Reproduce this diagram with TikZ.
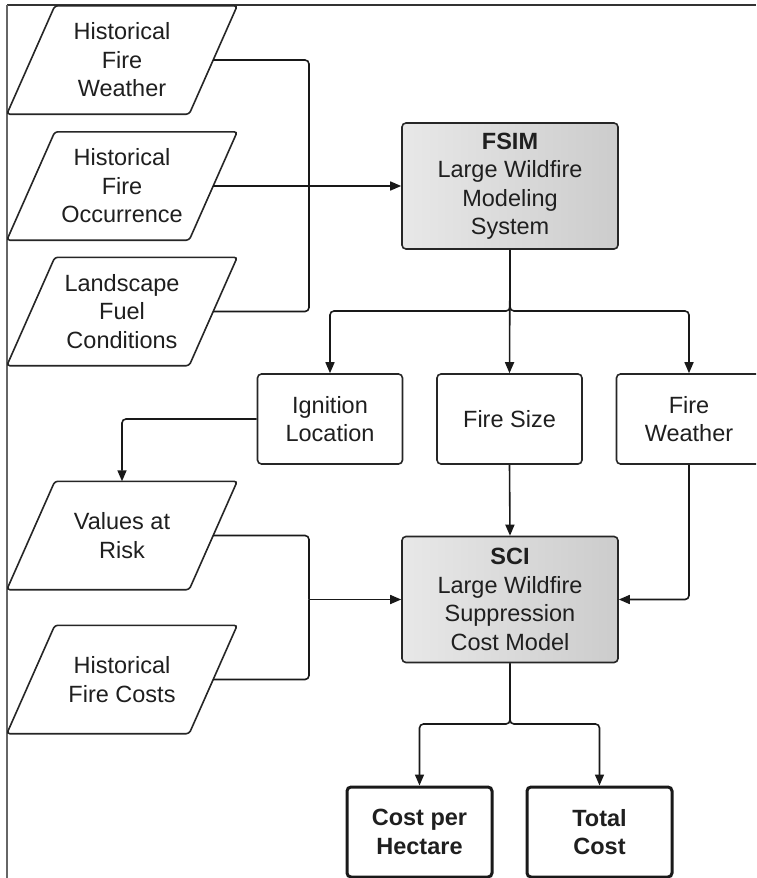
\documentclass[tikz,border=0pt]{standalone}
\usepackage{fontspec}
\setmainfont{Liberation Sans}
\usetikzlibrary{arrows.meta,calc}
\tikzset{
  txt/.style={align=center,font=\fontsize{23.5}{28.5}\selectfont,text=black!88,inner sep=0pt},
  ptext/.style={txt,minimum width=182pt,minimum height=108pt},
  boxline/.style={draw=black!85,line width=1.6pt,rounded corners=4pt},
  rbox/.style={txt,boxline,minimum width=145pt,minimum height=90pt},
  gbox/.style={txt,boxline,minimum width=216pt,minimum height=126pt,left color=black!9,right color=black!20},
  obox/.style={txt,draw=black!90,line width=3pt,rounded corners=4pt,minimum width=145pt,minimum height=90pt,font=\fontsize{23.5}{28.5}\selectfont\bfseries},
  conn/.style={draw=black!90,line width=1.6pt,rounded corners=4pt},
  arr/.style={conn,-{Triangle[length=11pt,width=9pt]}},
}
\newcommand\paranode[3]{%
  \node[ptext] (#1) at (#2) {#3};
  \draw[boxline,rounded corners=3pt] ($(#1.north west)+(24,0)$) -- ($(#1.north east)+(24,0)$) -- ($(#1.south east)+(-24,0)$) -- ($(#1.south west)+(-24,0)$) -- cycle;
}
\begin{document}
\begin{tikzpicture}[x=1pt,y=-1pt]
\useasboundingbox (0,0) rectangle (756,878);
\clip (0,0) rectangle (756,878);
\fill[white] (0,0) rectangle (756,878);
% frame
\draw[black!80,line width=2pt] (7,4.5) -- (756,4.5);
\draw[black!60,line width=2pt] (7,4.5) -- (7,878);

% inputs
\paranode{hfw}{122,60}{Historical\\Fire\\Weather}
\paranode{hfo}{122,186}{Historical\\Fire\\Occurrence}
\paranode{lfc}{122,311.5}{Landscape\\Fuel\\Conditions}
\paranode{var}{122,535.5}{Values at\\Risk}
\paranode{hfc}{122,679.5}{Historical\\Fire Costs}

% models
\node[gbox] (fsim) at (510,186) {\textbf{FSIM}\\Large Wildfire\\Modeling\\System};
\node[gbox] (sci) at (510,599.5) {\textbf{SCI}\\Large Wildfire\\Suppression\\Cost Model};

% intermediate
\node[rbox] (ign) at (330,419) {Ignition\\Location};
\node[rbox] (fsz) at (509.5,419) {Fire Size};
\node[rbox] (fwx) at (689,419) {Fire\\Weather};

% outputs
\node[obox] (cph) at (419.5,832) {Cost per\\Hectare};
\node[obox] (tc) at (599.5,832) {Total\\Cost};

% junctions
\coordinate (j1) at (309,186);
\coordinate (s1) at (510,311);
\coordinate (j2) at (309,599.5);
\coordinate (s2) at (510,724);

% connectors
\draw[conn] (hfw.east) -| (j1);
\draw[conn] (lfc.east) -| (j1);
\draw[arr] (hfo.east) -- (fsim.west);

\draw[arr] (fsim.south) -- (fsz.north);
\draw[arr] (fsim.south) -- (s1) -| (ign.north);
\draw[arr] (fsim.south) -- (s1) -| (fwx.north);

\draw[arr] (ign.west) -| (var.north);

\draw[conn] (var.east) -| (j2);
\draw[conn] (hfc.east) -| (j2);
\draw[arr] (j2) -- (sci.west);
\draw[arr] (fsz.south) -- (sci.north);
\draw[arr] (fwx.south) |- (sci.east);

\draw[arr] (sci.south) -- (s2) -| (cph.north);
\draw[arr] (sci.south) -- (s2) -| (tc.north);
\end{tikzpicture}
\end{document}
